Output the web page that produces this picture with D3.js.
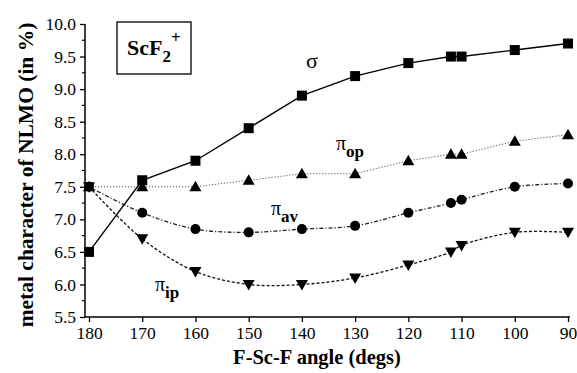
<!DOCTYPE html>
<html><head><meta charset="utf-8">
<script src="https://cdn.jsdelivr.net/npm/d3@7"></script>
<style>body{margin:0;background:#fff}svg{display:block}</style>
</head><body><svg id="c" width="577" height="373"></svg>
<script>
const angles = [180,170,160,150,140,130,120,112,110,100,90];
const sigma  = [6.5,7.6,7.9,8.4,8.9,9.2,9.4,9.5,9.5,9.6,9.7];
const piOp   = [7.5,7.5,7.5,7.6,7.7,7.7,7.9,8.0,8.0,8.2,8.3];
const piAv   = [7.5,7.1,6.85,6.8,6.85,6.9,7.1,7.25,7.3,7.5,7.55];
const piIp   = [7.5,6.7,6.2,6.0,6.0,6.1,6.3,6.5,6.6,6.8,6.8];
const xTicks = [180,170,160,150,140,130,120,110,100,90];
const yTicks = [5.5,6.0,6.5,7.0,7.5,8.0,8.5,9.0,9.5,10.0];

const SERIF = "Liberation Serif";
const svg = d3.select("#c");
const x = d3.scaleLinear().domain([180,90]).range([89,568]);
const y = d3.scaleLinear().domain([5.5,10]).range([317,24]);
const axL = 85;

const xa = svg.append("g").attr("transform","translate(0,317)")
  .call(d3.axisBottom(x).tickValues(xTicks).tickFormat(d3.format("d")).tickSize(5).tickSizeOuter(0));
xa.attr("font-family",SERIF).attr("font-size",17.5);
xa.select(".domain").attr("d","M"+axL+",0H570").attr("stroke","#000").attr("stroke-width",1.5);
xa.selectAll(".tick line").attr("stroke-width",1.3);
xa.selectAll(".tick text").attr("dy","0.8em");

const ya = svg.append("g").attr("transform","translate("+axL+",0)")
  .call(d3.axisLeft(y).tickValues(yTicks).tickFormat(d3.format(".1f")).tickSize(5).tickSizeOuter(0));
ya.attr("font-family",SERIF).attr("font-size",17.5);
ya.select(".domain").attr("stroke-width",1.5).attr("d","M0,317V24");
ya.selectAll(".tick line").attr("stroke-width",1.3);
ya.selectAll(".tick text").attr("dx","-1");
const minor = d3.range(5.75,10,0.5);
ya.selectAll(".minor").data(minor).enter().append("line")
  .attr("x1",-3).attr("x2",0).attr("y1",d=>y(d)).attr("y2",d=>y(d)).attr("stroke","#000").attr("stroke-width",1.2);

const series = [
  {v:piOp, dash:"1.2,1.8", w:1, col:"#555", sym:"tri", curve:d3.curveLinear},
  {v:piAv, dash:"4,2,1.2,2", w:1.3, col:"#222", sym:"circ", curve:d3.curveCatmullRom},
  {v:piIp, dash:"3,2", w:1.3, col:"#111", sym:"tridown", curve:d3.curveCatmullRom},
  {v:sigma, dash:null, w:1.4, col:"#000", sym:"sq", curve:d3.curveLinear}
];
series.forEach(s=>{
  const line = d3.line().x(d=>x(d[0])).y(d=>y(d[1])).curve(s.curve);
  const pts = angles.map((a,i)=>[a,s.v[i]]);
  svg.append("path").datum(pts).attr("d",line).attr("fill","none")
    .attr("stroke",s.col).attr("stroke-width",s.w).attr("stroke-dasharray",s.dash);
  const g = svg.append("g");
  pts.forEach(p=>{
    const cx=x(p[0]), cy=y(p[1]);
    if(s.sym==="sq") g.append("rect").attr("x",cx-5).attr("y",cy-5).attr("width",10).attr("height",10);
    else if(s.sym==="circ") g.append("circle").attr("cx",cx).attr("cy",cy).attr("r",5);
    else if(s.sym==="tri") g.append("path").attr("d",`M${cx},${cy-6}L${cx+6},${cy+4.5}L${cx-6},${cy+4.5}Z`);
    else g.append("path").attr("d",`M${cx},${cy+6}L${cx+6},${cy-4.5}L${cx-6},${cy-4.5}Z`);
  });
});

svg.append("text").attr("x",306).attr("y",68).attr("font-family",SERIF).attr("font-size",22).text("σ");
function piLabel(xx,yy,sub){
  const t = svg.append("text").attr("x",xx).attr("y",yy).attr("font-family",SERIF).attr("font-size",20);
  t.append("tspan").text("π");
  t.append("tspan").attr("dy",7).attr("font-size",17).attr("font-weight","bold").text(sub);
}
piLabel(336,150,"op");
piLabel(271,215,"av");
piLabel(155,291,"ip");

svg.append("rect").attr("x",117).attr("y",22).attr("width",74).attr("height",52).attr("fill","none").attr("stroke","#000").attr("stroke-width",1.3);
const bt = svg.append("text").attr("x",127).attr("y",55).attr("font-family",SERIF).attr("font-size",22).attr("font-weight","bold");
bt.append("tspan").text("ScF");
bt.append("tspan").attr("dy",7).attr("font-size",17).text("2");
bt.append("tspan").attr("dy",-19).attr("font-size",17).text("+");

svg.append("text").attr("x",317).attr("y",364).attr("text-anchor","middle").attr("font-family",SERIF).attr("font-size",20.5).attr("font-weight","bold").text("F-Sc-F angle (degs)");
svg.append("text").attr("transform","translate(33,175) rotate(-90)").attr("text-anchor","middle").attr("font-family",SERIF).attr("font-size",21.5).attr("font-weight","bold").text("metal character of NLMO (in %)");
</script></body></html>
